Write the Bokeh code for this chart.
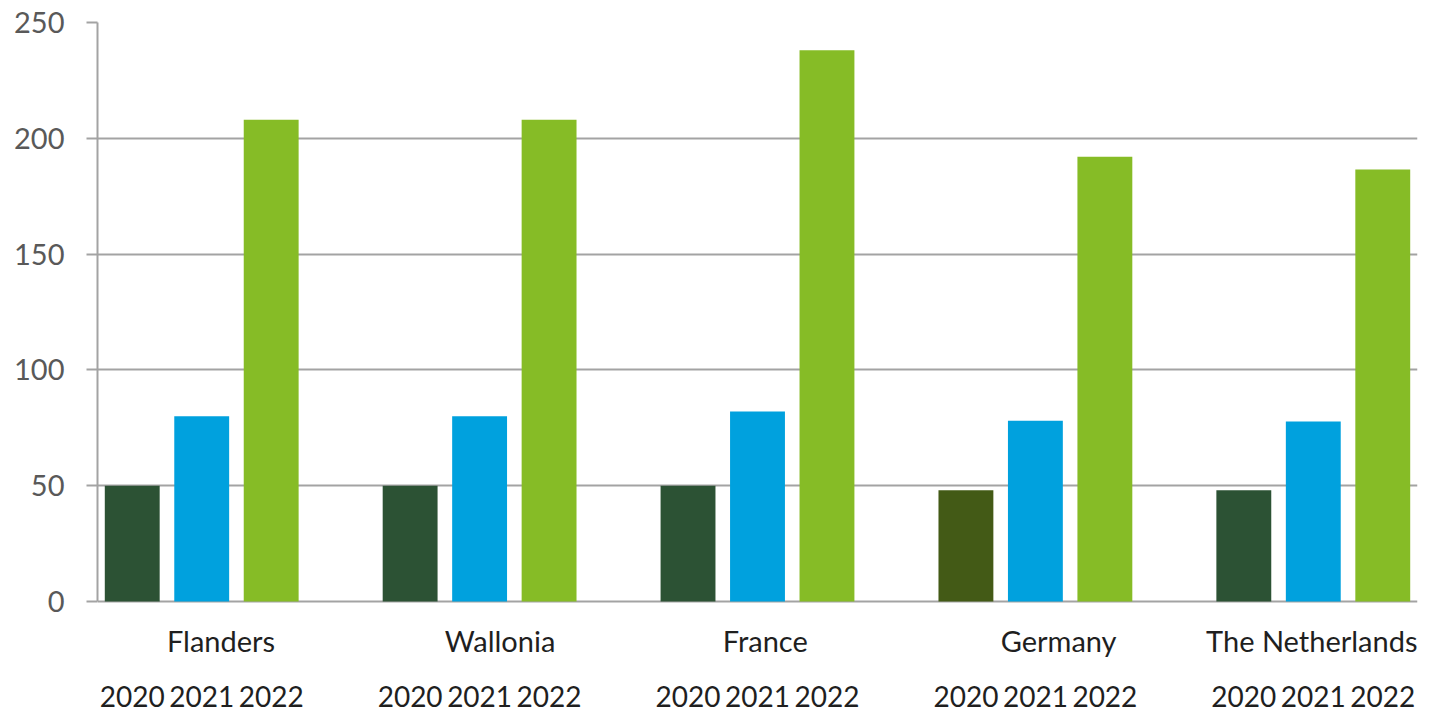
from bokeh.plotting import figure
from bokeh.models import ColumnDataSource, FixedTicker, Range1d
from bokeh.core.properties import value
from bokeh.embed import file_html
from bokeh.resources import INLINE

# ---- data ----
regions = ["Flanders", "Wallonia", "France", "Germany", "The Netherlands"]
years = ["2020", "2021", "2022"]
values_2020 = [50, 50, 50, 48, 48]
values_2021 = [80, 80, 82, 78, 77.7]
values_2022 = [208, 208, 238, 192, 186.5]
y_ticks = [0, 50, 100, 150, 200, 250]

year_colors = {"2020": "#2C5234", "2021": "#00A1DE", "2022": "#86BC26"}
germany_2020_color = "#435A16"

FONT = "Lato"
GRID = "#a3a3a3"

series = [values_2020, values_2021, values_2022]
n_slots = len(regions) * 4 - 1

xs, tops, colors, year_lbl = [], [], [], []
for g, reg in enumerate(regions):
    for j, yr in enumerate(years):
        xs.append(g * 4 + j + 0.5)
        tops.append(series[j][g])
        c = year_colors[yr]
        if reg == "Germany" and yr == "2020":
            c = germany_2020_color
        colors.append(c)
        year_lbl.append(yr)

bars = ColumnDataSource(dict(x=xs, top=tops, color=colors, year=year_lbl))

W, H = 1421, 714
TOP, LEFT, RIGHT = 22, 97, 4
px_per_unit = 2.316
frame_h = H - TOP
y_min = 250 - frame_h / px_per_unit

p = figure(width=W, height=H, output_backend="svg", toolbar_location=None,
           x_range=Range1d(0, n_slots), y_range=Range1d(y_min, 250),
           min_border_left=LEFT, min_border_right=RIGHT, min_border_top=TOP, min_border_bottom=0)
p.outline_line_color = None
p.background_fill_color = "white"
p.border_fill_color = "white"

p.vbar(x="x", top="top", bottom=0, width=0.79, fill_color="color", line_color=None, source=bars)

# axes / grid
p.xaxis.visible = False
p.xgrid.visible = False
p.yaxis.ticker = FixedTicker(ticks=y_ticks)
p.ygrid.ticker = FixedTicker(ticks=y_ticks)
p.ygrid.grid_line_color = GRID
p.ygrid.grid_line_width = 2
p.yaxis.bounds = (0, 250)
p.yaxis.axis_line_color = GRID
p.yaxis.axis_line_width = 2
p.yaxis.major_tick_line_color = GRID
p.yaxis.major_tick_line_width = 2
p.yaxis.major_tick_out = 11
p.yaxis.major_tick_in = 0
p.yaxis.minor_tick_line_color = None
p.yaxis.major_label_standoff = 22
p.yaxis.major_label_text_font = FONT
p.yaxis.major_label_text_font_size = "29px"
p.yaxis.major_label_text_color = "#595959"

# year labels under each bar
p.text(x="x", y=-41.0, text="year", source=bars, text_align="center",
       text_baseline="middle", text_font=value(FONT), text_font_size="28px",
       text_color="#1f1f1f")

# region labels
lx, la = [], []
for g, reg in enumerate(regions):
    if g == len(regions) - 1:
        lx.append(n_slots)
        la.append("right")
    else:
        lx.append(g * 4 + 1)
        la.append("left")
lab = ColumnDataSource(dict(x=lx, text=regions, align=la))
p.text(x="x", y=-17.0, text="text", source=lab, text_align="align",
       text_baseline="middle", text_font=value(FONT), text_font_size="29px",
       text_color="#1f1f1f")

open("out.html", "w").write(file_html(p, INLINE))
